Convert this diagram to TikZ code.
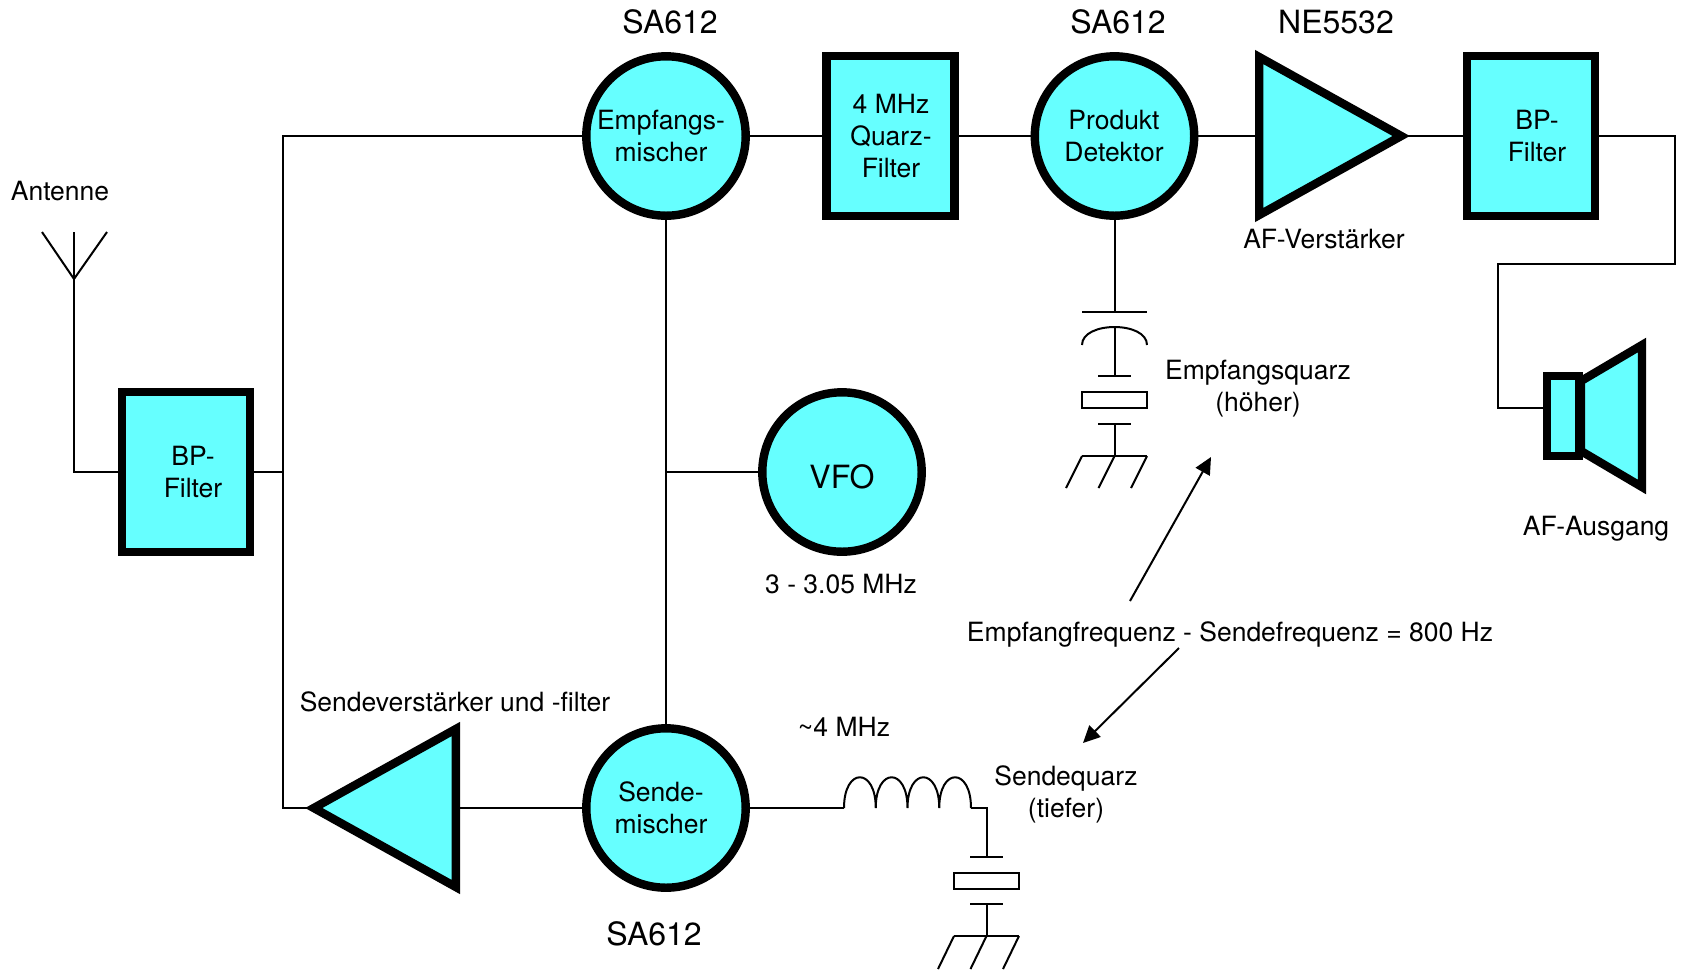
\documentclass[tikz,border=0pt]{standalone}
\usepackage{fontspec}
\setmainfont{TeX Gyre Heros}
\usetikzlibrary{calc,shapes.geometric,arrows.meta}

\tikzset{
  part/.style={fill=partcyan, draw=black, line width=4.2pt},
  filterbox/.style={part, rectangle, minimum width=64pt, minimum height=80pt, inner sep=0pt, align=center, font=\normaltxt},
  mixcircle/.style={part, circle, minimum size=79.7pt, inner sep=0pt, align=center, font=\normaltxt},
  amptri/.style={part, isosceles triangle, isosceles triangle stretches, minimum width=79pt, minimum height=71pt, inner sep=0pt},
  txt/.style={align=center, inner sep=0pt, font=\normaltxt},
  bigtxt/.style={align=center, inner sep=0pt, font=\bigtxtfont},
  arrowline/.style={-{Triangle[length=8.5pt,width=8pt]}}
}
\definecolor{partcyan}{HTML}{66FFFF}
\newcommand{\normaltxt}{\fontsize{13.25}{16}\selectfont}
\newcommand{\bigtxtfont}{\fontsize{16}{19}\selectfont}

\begin{document}
\begin{tikzpicture}[x=0.5pt, y=-0.5pt, line width=1pt]

\useasboundingbox (0,0) rectangle (1682,971);

\node[filterbox] (bpin) at (186,472) {};

\node[mixcircle] (empf) at (666,136) {};

\node[filterbox] (quarz) at ($(empf) + (224.5,0)$) {};

\node[mixcircle] (prod) at ($(empf) + (448.5,0)$) {};

\node[amptri, anchor=lower side] (afamp) at (1255,136) {};

\node[filterbox] (bpout) at (1531,136) {};

\node[mixcircle] (vfo) at (842,472) {};

\node[mixcircle] (sende) at (666,808) {};

\node[amptri, shape border rotate=180, anchor=lower side] (sendeamp) at (460,808) {};

\draw[part] (1581,381) -- (1642,345) -- (1642,487) -- (1581,451) -- cycle;

\node[part, rectangle, minimum width=16pt, minimum height=40pt, inner sep=0pt] (speaker) at (1563,416) {};

\node[txt] (bpintxt) at (193,472) {BP-\\Filter};
\node[txt] (empftxt) at (661,136) {Empfangs-\\mischer};
\node[txt] (quarztxt) at (891,136) {4 MHz\\Quarz-\\Filter};
\node[txt] (prodtxt) at (1114,136) {Produkt\\Detektor};
\node[txt] (bpouttxt) at (1537,136) {BP-\\Filter};
\node[txt] (sendetxt) at (661,808) {Sende-\\mischer};

\node[bigtxt] (sa1) at (670,22) {SA612};
\node[bigtxt] (sa2) at (1118,22) {SA612};
\node[bigtxt] (ne) at (1336,22) {NE5532};
\node[bigtxt] (sa3) at (654,934) {SA612};
\node[bigtxt] (vfoname) at (842,477) {VFO};

\node[txt] (anttxt) at (60,191) {Antenne};
\node[txt] (aftxt) at (1324,239) {AF-Verstärker};
\node[txt] (empfq) at (1258,389) {Empfangsquarz\\(höher)};
\node[txt] (ausgang) at (1596,529) {AF-Ausgang};
\node[txt] (vfotxt) at (841,584) {3 - 3.05 MHz};
\node[txt] (difftxt) at (1230,634) {Empfangfrequenz - Sendefrequenz = 800 Hz};
\node[txt] (amptxt) at (455,702) {Sendeverstärker und -filter};
\node[txt] (mhz) at (844,727) {\textasciitilde4 MHz};
\node[txt] (sendeq) at (1066,794) {Sendequarz\\(tiefer)};

\coordinate (antfoot) at (74,279);
\coordinate (bus) at (283,472);
\coordinate (vfojoin) at (666,472);
\coordinate (coilin) at (844,808);
\coordinate (coilout) at (971,808);
\coordinate (rxplate) at (1114.5,312);
\coordinate (rxarc) at (1114.5,327);
\coordinate (rxlow) at (1114.5,376);
\coordinate (rxxtal) at (1114.5,400);
\coordinate (rxtop) at (1114.5,424);
\coordinate (rxgnd) at (1114.5,456);
\coordinate (txplate) at (986.5,857);
\coordinate (txxtal) at (986.5,881);
\coordinate (txlow) at (986.5,904);
\coordinate (txgnd) at (986.5,936);

\draw (antfoot) -- (42,232);
\draw (antfoot) -- (74,232);
\draw (antfoot) -- (107,232);
\draw (antfoot) |- (bpin.west);

\draw (bpin.east) -- (bus);
\draw (empf.west) -| (bus);
\draw ([xshift=4pt]sendeamp.apex) -| (bus);

\draw (empf.east) -- (quarz.west);
\draw (quarz.east) -- (prod.west);
\draw (prod.east) -- (afamp.lower side);
\draw ([xshift=-4pt]afamp.apex) -- (bpout.west);
\draw (bpout.east) -- (1675,136) -- (1675,264) -- (1498,264) |- ([yshift=4pt]speaker.west);

\draw (empf.south) -- (sende.north);
\draw (vfojoin) -- (vfo.west);
\draw (sende.west) -- (sendeamp.lower side);
\draw (sende.east) -- (coilin);

\draw (coilin) .. controls +(0,-41) and +(0,-41) .. ++(31.75,0)
  .. controls +(0,-41) and +(0,-41) .. ++(31.75,0)
  .. controls +(0,-41) and +(0,-41) .. ++(31.75,0)
  .. controls +(0,-41) and +(0,-41) .. (coilout);
\draw (coilout) -| (txplate);

\draw (prod.south) -- (rxplate);
\draw ($(rxplate) + (-32.5,0)$) -- ($(rxplate) + (32.5,0)$);
\draw ($(rxarc) + (-32.5,18)$) .. controls +(0,-24) and +(0,-24) .. ($(rxarc) + (32.5,18)$);
\draw (rxarc) -- (rxlow);
\draw ($(rxlow) + (-16.5,0)$) -- ($(rxlow) + (16.5,0)$);
\node[draw, rectangle, minimum width=32.5pt, minimum height=8pt, inner sep=0pt] (rxquarz) at (rxxtal) {};
\draw ($(rxtop) + (-16.5,0)$) -- ($(rxtop) + (16.5,0)$);
\draw (rxtop) -- (rxgnd);
\draw ($(rxgnd) + (-32.5,0)$) -- ($(rxgnd) + (32.5,0)$);
\draw ($(rxgnd) + (-32.5,0)$) -- ++(-16,32);
\draw (rxgnd) -- ++(-16,32);
\draw ($(rxgnd) + (32.5,0)$) -- ++(-16,32);

\draw ($(txplate) + (-16.5,0)$) -- ($(txplate) + (16.5,0)$);
\node[draw, rectangle, minimum width=32.5pt, minimum height=8pt, inner sep=0pt] (txquarz) at (txxtal) {};
\draw ($(txlow) + (-16.5,0)$) -- ($(txlow) + (16.5,0)$);
\draw (txlow) -- (txgnd);
\draw ($(txgnd) + (-32.5,0)$) -- ($(txgnd) + (32.5,0)$);
\draw ($(txgnd) + (-32.5,0)$) -- ++(-16,33);
\draw (txgnd) -- ++(-16,33);
\draw ($(txgnd) + (32.5,0)$) -- ++(-16,33);

\coordinate (uparrow) at (1130,601);
\coordinate (uptip) at (1211,457);
\coordinate (downarrow) at (1179,648);
\coordinate (downtip) at (1083,743);

\draw[arrowline] (uparrow) -- (uptip);
\draw[arrowline] (downarrow) -- (downtip);

\end{tikzpicture}
\end{document}
